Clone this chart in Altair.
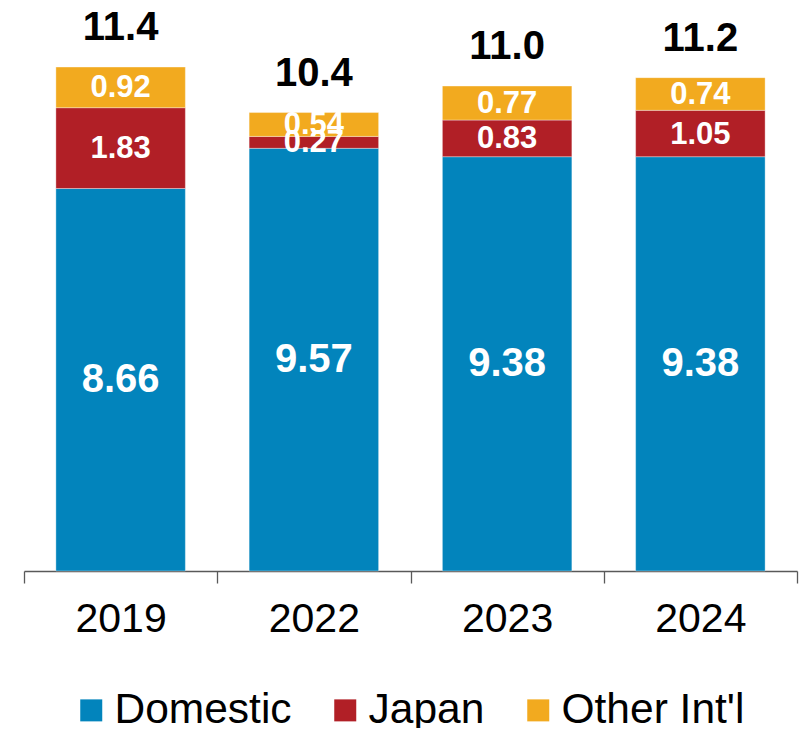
import altair as alt
import pandas as pd

years = ["2019", "2022", "2023", "2024"]
segments = ["Domestic", "Japan", "Other Int'l"]
domestic = [8.66, 9.57, 9.38, 9.38]
japan = [1.83, 0.27, 0.83, 1.05]
other_intl = [0.92, 0.54, 0.77, 0.74]
colors = ["#0284BC", "#B11F26", "#F2AA1F"]

rows = []
for i, y in enumerate(years):
    for k, (seg, vals) in enumerate(zip(segments, [domestic, japan, other_intl])):
        rows.append({"year": y, "segment": seg, "value": vals[i], "order": k})
df = pd.DataFrame(rows)

FONT = "Liberation Sans"

xenc = alt.X(
    "year:N",
    sort=years,
    scale=alt.Scale(paddingInner=0, paddingOuter=0),
    axis=alt.Axis(
        title=None,
        labelAngle=0,
        labelFontSize=41,
        labelFont=FONT,
        labelColor="#000000",
        labelPadding=16,
        domainColor="#595959",
        domainWidth=1.3,
        tickColor="#595959",
        tickWidth=1.3,
        tickSize=12,
        tickBand="extent",
        grid=False,
    ),
)
yscale = alt.Scale(domain=[0, 12], nice=False, zero=True)

base = alt.Chart(df)

bars = base.mark_bar(
    stroke="#ffffff", strokeWidth=0.6, strokeOpacity=0.6,
    width=alt.RelativeBandSize(0.67),
).encode(
    x=xenc,
    y=alt.Y("value:Q", stack="zero", scale=yscale, axis=None),
    color=alt.Color(
        "segment:N",
        sort=segments,
        scale=alt.Scale(domain=segments, range=colors),
        legend=alt.Legend(
            title=None,
            orient="none",
            direction="horizontal",
            legendX=46,
            legendY=648,
            symbolType="square",
            symbolSize=484,
            symbolStrokeWidth=0,
            labelFontSize=42.5,
            labelFont=FONT,
            labelColor="#000000",
            labelOffset=2,
            columnPadding=32,
            labelLimit=400,
        ),
    ),
    order=alt.Order("order:Q", sort="ascending"),
)

stacked = base.transform_stack(
    stack="value", groupby=["year"], as_=["v0", "v1"], sort=[alt.SortField("order")]
).transform_calculate(mid="(datum.v0 + datum.v1) / 2")

dom_labels = stacked.transform_filter("datum.segment == 'Domestic'").mark_text(
    font=FONT, fontSize=40, fontWeight="bold", color="#ffffff", baseline="middle"
).encode(
    x=alt.X("year:N", sort=years),
    y=alt.Y("mid:Q", scale=yscale),
    text=alt.Text("value:Q", format=".2f"),
)

small_labels = stacked.transform_filter("datum.segment != 'Domestic'").mark_text(
    font=FONT, fontSize=31, fontWeight="bold", color="#ffffff", baseline="middle", dy=1
).encode(
    x=alt.X("year:N", sort=years),
    y=alt.Y("mid:Q", scale=yscale),
    text=alt.Text("value:Q", format=".2f"),
)

totals = base.transform_aggregate(total="sum(value)", groupby=["year"]).mark_text(
    font=FONT, fontSize=40, fontWeight="bold", color="#000000", baseline="alphabetic", dy=-27
).encode(
    x=alt.X("year:N", sort=years),
    y=alt.Y("total:Q", scale=yscale),
    text=alt.Text("total:Q", format=".1f"),
)

chart = alt.layer(bars, dom_labels, small_labels, totals).properties(
    width=773,
    height=530,
    background="#ffffff",
    autosize=alt.AutoSizeParams(type="none"),
    padding={"left": 16, "top": 33, "right": 2, "bottom": 157},
).configure_view(strokeWidth=0, stroke="transparent")

chart.save("out.html", embed_options={"renderer": "svg", "actions": False})
